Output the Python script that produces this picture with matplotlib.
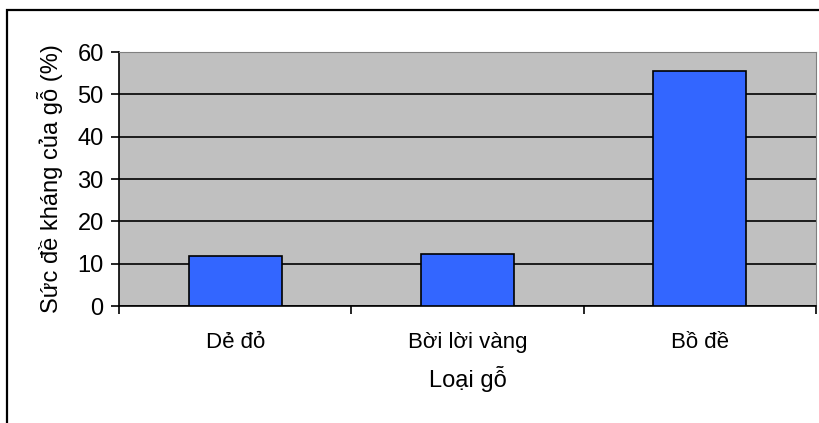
import matplotlib.pyplot as plt
from matplotlib.patches import Rectangle

plt.rcParams['font.family'] = ['Liberation Sans', 'DejaVu Sans']

categories = ['Dẻ đỏ', 'Bời lời vàng', 'Bồ đề']
resistance = [11.8, 12.2, 55.5]
yticks = [0, 10, 20, 30, 40, 50, 60]

W, H = 820, 423
fs = 17
fig = plt.figure(figsize=(W / 100, H / 100), dpi=100)
fig.patch.set_facecolor('white')

# outer chart frame (runs off the bottom and right edges)
fig.patches.append(Rectangle((7 / W, -0.1), 2, (H - 10) / H + 0.1,
                             transform=fig.transFigure, fill=False,
                             edgecolor='black', linewidth=1.6))

ax = fig.add_axes([119 / W, 1 - 306 / H, (816 - 119) / W, (306 - 52) / H])
ax.set_facecolor('#C0C0C0')
ax.set_axisbelow(True)

x = list(range(len(categories)))
ax.bar(x, resistance, width=0.4, color='#3366FF', edgecolor='black',
       linewidth=1.2, zorder=3)

ax.set_xlim(-0.5, len(categories) - 0.5)
ax.set_ylim(0, 60)
ax.set_yticks(yticks)
ax.grid(axis='y', color='black', linewidth=1.2)

# category labels between boundary ticks
ax.set_xticks([i - 0.5 for i in range(len(categories) + 1)])
ax.set_xticklabels([])
ax.set_xticks(x, minor=True)
ax.set_xticklabels(categories, minor=True)
ax.tick_params(axis='x', which='major', direction='out', length=6, width=1.2)
ax.tick_params(axis='x', which='minor', length=0, pad=19, labelsize=16)
ax.tick_params(axis='y', direction='out', length=6, width=1.2, labelsize=fs, pad=5)

for side in ('top', 'right'):
    ax.spines[side].set_color('#808080')
for side in ('left', 'bottom'):
    ax.spines[side].set_color('black')
    ax.spines[side].set_linewidth(1.2)

ax.set_xlabel('Loại gỗ', fontsize=fs, labelpad=9)
ax.set_ylabel('Sức đề kháng của gỗ (%)', fontsize=fs, labelpad=10)

fig.savefig('out.png', dpi=100)
